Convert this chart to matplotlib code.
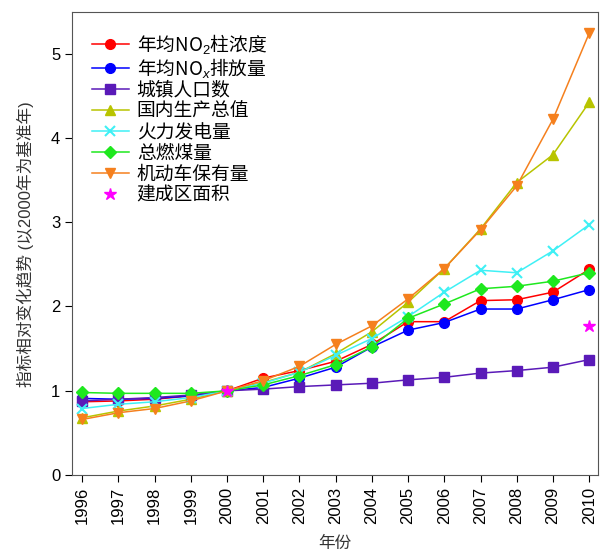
import numpy as np
import matplotlib.pyplot as plt

plt.rcParams['font.family'] = ['Liberation Sans', 'Noto Sans CJK SC']
plt.rcParams['mathtext.fontset'] = 'custom'
plt.rcParams['mathtext.rm'] = 'Liberation Sans'
plt.rcParams['mathtext.it'] = 'Liberation Sans:italic'

years = np.arange(1996, 2011)

no2_column = [0.87, 0.88, 0.90, 0.94, 1.00, 1.15, 1.24, 1.35, 1.55, 1.82, 1.82, 2.07, 2.08, 2.17, 2.44]
nox_emission = [0.91, 0.90, 0.91, 0.94, 1.00, 1.04, 1.15, 1.28, 1.52, 1.72, 1.81, 1.97, 1.97, 2.08, 2.20]
urban_pop = [0.88, 0.90, 0.92, 0.95, 1.00, 1.02, 1.05, 1.07, 1.09, 1.13, 1.16, 1.21, 1.24, 1.28, 1.37]
gdp = [0.68, 0.76, 0.82, 0.90, 1.00, 1.10, 1.22, 1.44, 1.70, 2.05, 2.45, 2.92, 3.47, 3.80, 4.42]
thermal_power = [0.79, 0.84, 0.87, 0.92, 1.00, 1.09, 1.22, 1.42, 1.62, 1.88, 2.17, 2.43, 2.40, 2.66, 2.97]
coal_use = [0.98, 0.97, 0.97, 0.97, 1.00, 1.07, 1.18, 1.31, 1.52, 1.86, 2.03, 2.21, 2.24, 2.30, 2.40]
vehicles = [0.66, 0.74, 0.79, 0.88, 1.00, 1.12, 1.29, 1.55, 1.77, 2.09, 2.45, 2.91, 3.43, 4.22, 5.24]
built_years = [2000, 2010]
built_area = [1.00, 1.77]

series = [
    (no2_column, '年均NO$_2$柱浓度', 'red', 'o'),
    (nox_emission, '年均NO$_{\\mathit{x}}$排放量', 'blue', 'o'),
    (urban_pop, '城镇人口数', '#5a1ab8', 's'),
    (gdp, '国内生产总值', '#b8c400', '^'),
    (thermal_power, '火力发电量', '#3ff0f5', 'x'),
    (coal_use, '总燃煤量', '#1ee81e', 'D'),
    (vehicles, '机动车保有量', '#f5801e', 'v'),
]

fig = plt.figure(figsize=(6.0, 5.57), dpi=100)
ax = fig.add_axes([0.12, 0.147, 0.877, 0.831])

for values, label, color, marker in series:
    ms = 6 if marker == 'D' else 7
    mew = 1.5 if marker == 'x' else 1
    ax.plot(years, values, color=color, marker=marker, markersize=ms,
            markeredgewidth=mew, linewidth=1.1, label=label)

ax.plot(built_years, built_area, linestyle='none', marker='*', color='#ff00ff',
        markersize=9, label='建成区面积')

ax.set_xlim(1995.72, 2010.25)
ax.set_ylim(0, 5.49)
ax.set_xticks(years)
ax.set_xticklabels([str(y) for y in years], rotation=90, fontsize=12)
ax.set_yticks([0, 1, 2, 3, 4, 5])
ax.tick_params(axis='y', labelsize=12)
ax.tick_params(direction='out', length=5, top=False, right=False)
for sp in ax.spines.values():
    sp.set_color('#555555')

ax.set_xlabel('年份', fontsize=12, color='#333333', labelpad=8)
ax.set_ylabel('指标相对变化趋势 (以2000年为基准年)', fontsize=12, color='#333333',
              labelpad=12)

# legend text in the CJK face so the mixed math labels keep their glyphs
leg = ax.legend(loc='upper left', frameon=False, handlelength=2.0,
                prop={'family': 'Noto Sans CJK SC', 'size': 13.5},
                borderaxespad=0.65, labelspacing=0.0, handletextpad=0.4)

fig.savefig('out.png', dpi=100)
